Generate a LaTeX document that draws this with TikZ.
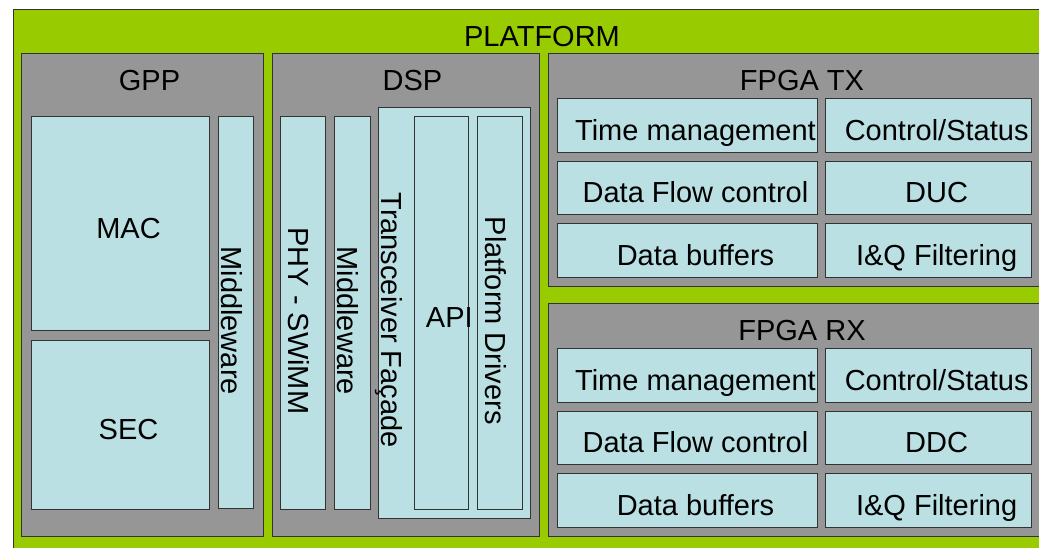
\documentclass[tikz,border=0pt]{standalone}
\usepackage{fontspec}
\setmainfont{Liberation Sans}
\usetikzlibrary{positioning}

\definecolor{platgreen}{HTML}{99CC00}
\definecolor{unitgrey}{HTML}{969696}
\definecolor{blockcyan}{HTML}{BAE0E3}
\definecolor{edgegrey}{HTML}{333333}

\begin{document}
\begin{tikzpicture}[
        x=1pt, y=-1pt,
        every node/.style={font=\fontsize{29}{33}\selectfont},
        platform/.style={rectangle, draw=edgegrey, line width=1pt, fill=platgreen, inner sep=0pt, anchor=north west},
        unit/.style={rectangle, draw=edgegrey, line width=1pt, fill=unitgrey, inner sep=0pt, anchor=north west, minimum height=482.4pt},
        block/.style={rectangle, draw=edgegrey, line width=1pt, fill=blockcyan, inner sep=0pt,
            text height=29pt, text depth=0pt,
            execute at begin node=\hspace*{8pt}, execute at end node=\hspace*{-8pt}},
        cell/.style={block, minimum height=53.5pt},
        wide/.style={cell, minimum width=259.4pt},
        narrow/.style={cell, minimum width=206.3pt},
        vblock/.style={block, rotate=-90, minimum width=392.5pt},
        vlabel/.style={rotate=-90, inner sep=0pt, text height=29pt, text depth=0pt},
        heading/.style={inner sep=0pt}
    ]
        \useasboundingbox (0,0) rectangle (1039,547);
        \clip (0,0) rectangle (1039,547);

        \node[platform, minimum width=1040pt, minimum height=560pt] (platform) at (13,9) {};
        \node[heading] (platformtitle) at (542,37) {PLATFORM};

        \node[unit, minimum width=241.7pt] (gpp) at (21.3,53.3) {};
        \node[heading] (gpptitle) at (149.5,80.5) {GPP};
        \node[block, minimum width=178.6pt, minimum height=213.7pt, anchor=north west] (mac) at (30.7,116.3) {MAC};
        \node[block, minimum width=178.6pt, minimum height=169pt, below=9pt of mac] (sec) {SEC};
        \node[vblock, minimum height=35.4pt] (gppmiddleware) at (236,312.7) {Middleware};

        \node[unit, minimum width=267.6pt] (dsp) at (271.7,53.3) {};
        \node[heading] (dsptitle) at (412.5,80.5) {DSP};
        \node[vblock, minimum height=44.6pt] (phy) at (303,312.8) {PHY - SWiMM};
        \node[vblock, minimum height=35.7pt] (dspmiddleware) at (352.2,312.8) {Middleware};
        \node[block, minimum width=152pt, minimum height=410.7pt] (facade) at (454.7,312.7) {};
        \node[vlabel] (facadelabel) at (396.2,320) {Transceiver Façade};
        \node[block, minimum width=54pt, minimum height=392.5pt] (api) at (441.3,312.8) {API};
        \node[vblock, minimum height=45pt] (drivers) at (499.5,312.8) {Platform Drivers};

        \node[unit, minimum width=500pt, minimum height=232.4pt] (fpgatx) at (548.3,53.3) {};
        \node[heading] (fpgatxtitle) at (802,80.7) {FPGA TX};
        \node[wide, anchor=north west] (txtime) at (557.3,98.3) {Time management};
        \node[narrow, right=7.3pt of txtime] (txctrl) {Control/Status};
        \node[wide, below=8pt of txtime] (txflow) {Data Flow control};
        \node[narrow, right=7.3pt of txflow] (txduc) {DUC};
        \node[wide, below=8pt of txflow] (txbuf) {Data buffers};
        \node[narrow, right=7.3pt of txbuf] (txfilter) {I\&Q Filtering};

        \node[unit, minimum width=500pt, minimum height=232.4pt] (fpgarx) at (548.3,303.3) {};
        \node[heading] (fpgarxtitle) at (802,331) {FPGA RX};
        \node[wide, anchor=north west] (rxtime) at (557.3,348.3) {Time management};
        \node[narrow, right=7.3pt of rxtime] (rxctrl) {Control/Status};
        \node[wide, below=8pt of rxtime] (rxflow) {Data Flow control};
        \node[narrow, right=7.3pt of rxflow] (rxddc) {DDC};
        \node[wide, below=8pt of rxflow] (rxbuf) {Data buffers};
        \node[narrow, right=7.3pt of rxbuf] (rxfilter) {I\&Q Filtering};
    \end{tikzpicture}
\end{document}
